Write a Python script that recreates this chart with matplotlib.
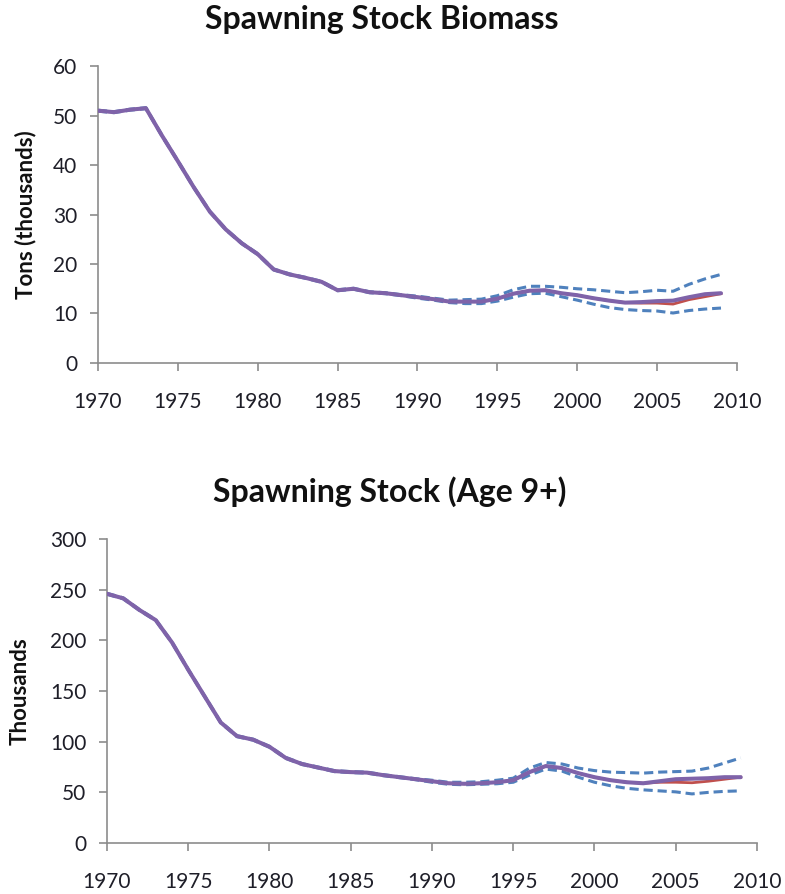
import matplotlib
matplotlib.use("Agg")
import matplotlib.pyplot as plt

plt.rcParams['font.family'] = ['Lato', 'DejaVu Sans']

years = list(range(1970, 2010))

# spawning stock biomass, thousand tons
ssb_est = [51.0, 50.7, 51.2, 51.5, 46.0, 40.8, 35.5, 30.6, 27.0, 24.2,
           22.0, 18.9, 17.9, 17.2, 16.4, 14.7, 15.0, 14.3, 14.1, 13.7,
           13.3, 12.9, 12.4, 12.4, 12.4, 13.0, 14.0, 14.6, 14.7, 14.1,
           13.7, 13.1, 12.6, 12.2, 12.3, 12.5, 12.6, 13.3, 13.9, 14.1]
ssb_alt = [51.0, 50.7, 51.2, 51.5, 46.0, 40.8, 35.5, 30.6, 27.0, 24.2,
           22.0, 18.9, 17.9, 17.2, 16.4, 14.7, 15.0, 14.3, 14.1, 13.7,
           13.3, 12.9, 12.4, 12.4, 12.4, 13.0, 14.0, 14.6, 14.7, 14.1,
           13.7, 13.1, 12.6, 12.2, 12.1, 12.1, 11.9, 12.8, 13.4, 14.0]
ssb_hi = [51.1, 50.8, 51.3, 51.6, 46.1, 40.9, 35.6, 30.7, 27.1, 24.3,
          22.1, 19.0, 18.0, 17.3, 16.5, 14.8, 15.1, 14.4, 14.2, 13.8,
          13.5, 13.1, 12.7, 12.8, 12.9, 13.6, 14.8, 15.5, 15.5, 15.3,
          15.0, 14.8, 14.5, 14.2, 14.4, 14.7, 14.5, 15.9, 17.0, 17.9]
ssb_lo = [50.9, 50.6, 51.1, 51.4, 45.9, 40.7, 35.4, 30.5, 26.9, 24.1,
          21.9, 18.8, 17.8, 17.1, 16.3, 14.6, 14.9, 14.2, 14.0, 13.6,
          13.1, 12.7, 12.2, 12.0, 12.0, 12.5, 13.3, 14.0, 14.1, 13.4,
          12.7, 11.9, 11.2, 10.8, 10.6, 10.5, 10.1, 10.6, 10.9, 11.1]

# spawning stock numbers age 9+, thousands
age9_est = [246, 241.5, 230, 220, 198, 171, 145, 119, 105.5, 102,
            95, 84, 78, 74.5, 71, 70, 69.5, 67, 65, 63,
            61, 59, 58.5, 59, 60, 62, 70, 76, 74, 69,
            65, 62, 60, 59, 61, 63, 63.5, 64, 65, 65]
age9_alt = [246, 241.5, 230, 220, 198, 171, 145, 119, 105.5, 102,
            95, 84, 78, 74.5, 71, 70, 69.5, 67, 65, 63,
            61, 59, 58.5, 59, 60, 62, 70, 76, 74, 69,
            65, 62, 60, 59, 60, 60, 59.5, 61, 63, 65]
age9_hi = [246.5, 242, 230.5, 220.5, 198.5, 171.5, 145.5, 119.5, 106, 102.5,
           95.5, 84.5, 78.5, 75, 71.5, 70.5, 70, 67.5, 65.5, 63.5,
           62, 60, 60, 60.5, 62, 64, 74, 79.5, 78, 74,
           71.5, 70, 69.5, 69, 70, 70.5, 71, 74, 79, 84]
age9_lo = [245.5, 241, 229.5, 219.5, 197.5, 170.5, 144.5, 118.5, 105, 101.5,
           94.5, 83.5, 77.5, 74, 70.5, 69.5, 69, 66.5, 64.5, 62.5,
           60, 58, 57.5, 58, 58.5, 60, 67, 73, 71, 65,
           60, 56.5, 54, 52.5, 51.5, 50.5, 48.5, 50, 51, 51.5]

PURPLE = '#7F63A9'
RED = '#C0504D'
BLUE = '#4F81BD'
AXIS = '#8C8C8C'
TEXT = '#1E1E28'


def draw_panel(ax, est, alt, hi, lo, ymax, ystep, title, title_x, ylabel, ylabel_pad):
    ax.plot(years, hi, color=BLUE, lw=2.2, dashes=(3, 1.6), zorder=2)
    ax.plot(years, lo, color=BLUE, lw=2.2, dashes=(3, 1.6), zorder=2)
    ax.plot(years, alt, color=RED, lw=2.0, zorder=3)
    ax.plot(years, est, color=PURPLE, lw=2.9, zorder=4, solid_capstyle='round')

    ax.set_xlim(1970, 2010)
    ax.set_ylim(0, ymax)
    ax.set_xticks(range(1970, 2011, 5))
    ax.set_yticks(range(0, ymax + 1, ystep))

    for side in ('top', 'right'):
        ax.spines[side].set_visible(False)
    for side in ('left', 'bottom'):
        ax.spines[side].set_color(AXIS)
        ax.spines[side].set_linewidth(1.2)
    ax.tick_params(axis='both', colors=AXIS, width=1.2, length=6,
                   labelcolor=TEXT, labelsize=15)
    ax.tick_params(axis='x', pad=15)
    ax.tick_params(axis='y', pad=9)

    ax.set_title(title, fontsize=23, fontweight='bold', color='#111111',
                 pad=27, x=title_x)
    ax.set_ylabel(ylabel, fontsize=16, fontweight='bold', color='#111111',
                  labelpad=ylabel_pad)


fig = plt.figure(figsize=(7.85, 8.94), dpi=100)
ax1 = fig.add_axes([0.1248, 0.594, 0.814, 0.332])
ax2 = fig.add_axes([0.1363, 0.057, 0.828, 0.340])

draw_panel(ax1, ssb_est, ssb_alt, ssb_hi, ssb_lo, 60, 10,
           'Spawning Stock Biomass', 0.444, 'Tons (thousands)', 12)
draw_panel(ax2, age9_est, age9_alt, age9_hi, age9_lo, 300, 50,
           'Spawning Stock (Age 9+)', 0.435, 'Thousands', 14)

fig.savefig('out.png', dpi=100)
